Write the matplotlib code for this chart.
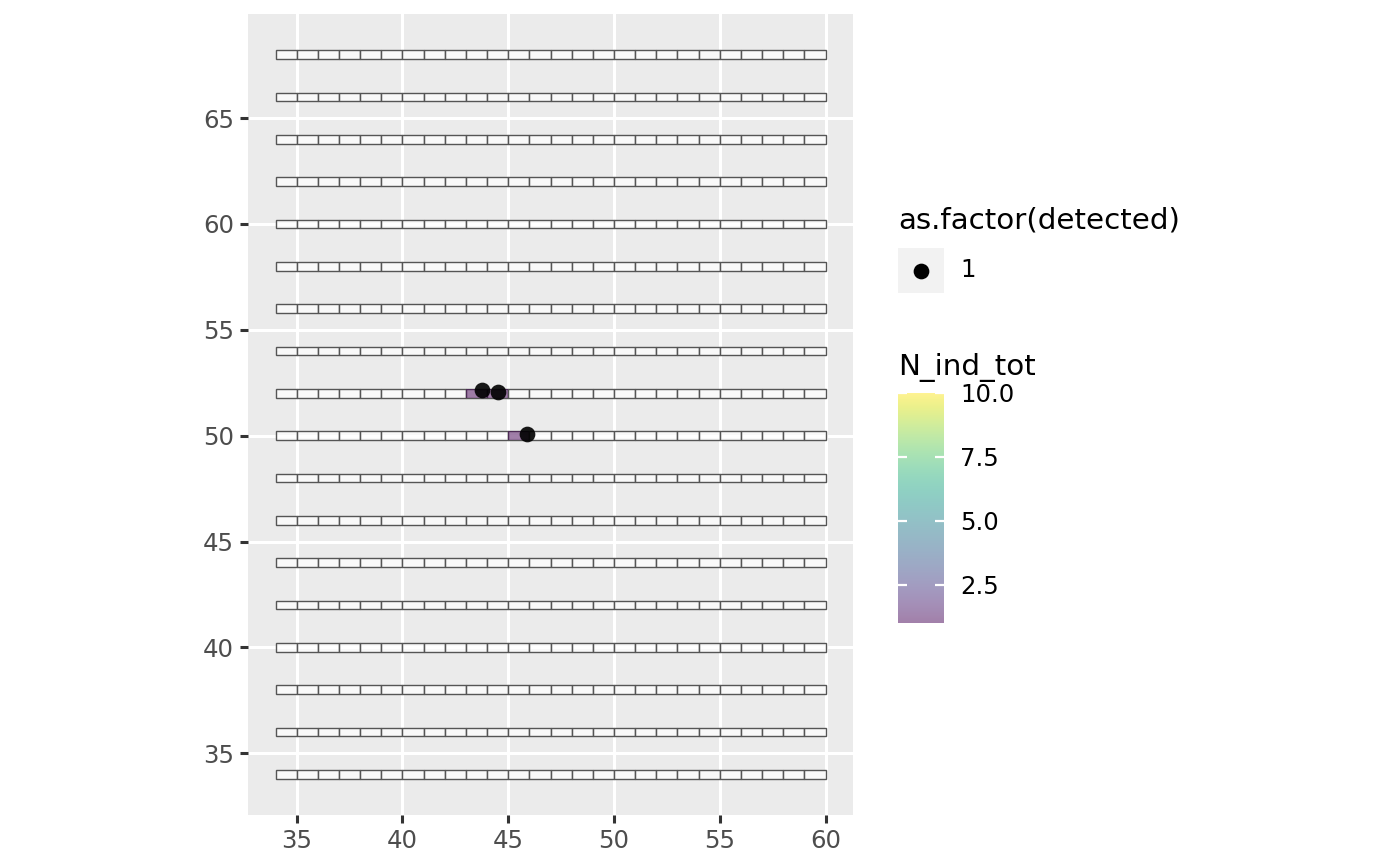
import matplotlib
matplotlib.use("Agg")
import matplotlib.pyplot as plt
import numpy as np

# survey grid: transect rows (y) and cell left edges (x)
row_y = [34, 36, 38, 40, 42, 44, 46, 48, 50, 52, 54, 56, 58, 60, 62, 64, 66, 68]
cell_x = [34, 35, 36, 37, 38, 39, 40, 41, 42, 43, 44, 45, 46, 47, 48, 49, 50,
          51, 52, 53, 54, 55, 56, 57, 58, 59]
cell_h = 0.4

# cells with individuals counted
occ_x = [43, 44, 45]
occ_y = [52, 52, 50]
occ_n = [1, 1, 1]

# detections
det_x = [43.74, 44.50, 45.87]
det_y = [52.15, 52.06, 50.07]
det_lab = ["1"]

n_min, n_max = 1, 10
cb_ticks = [2.5, 5.0, 7.5, 10.0]
cb_labels = ["2.5", "5.0", "7.5", "10.0"]

W, H = 1400, 866
fig = plt.figure(figsize=(7, 4.33), dpi=200)
ax = fig.add_axes([248 / W, 1 - 815 / H, (853 - 248) / W, (815 - 14) / H])
ax.set_facecolor("#EBEBEB")
for s in ax.spines.values():
    s.set_visible(False)

ax.set_xlim(32.7, 61.3)
ax.set_ylim(32.08, 69.92)
ax.set_xticks([35, 40, 45, 50, 55, 60])
ax.set_yticks([35, 40, 45, 50, 55, 60, 65])
ax.grid(True, color="white", linewidth=1.1)
ax.set_axisbelow(True)
ax.tick_params(colors="#333333", labelcolor="#4D4D4D", labelsize=8.8,
               length=2.75, width=1.1, pad=2.2)

# empty grid cells
for y in row_y:
    ax.bar(cell_x, cell_h, width=1, bottom=y - cell_h / 2, align="edge",
           facecolor=(1, 1, 1, 0.7), edgecolor="#555555", linewidth=0.5, zorder=2)

# occupied cells coloured by N_ind_tot
cmap = plt.get_cmap("viridis")
norm = plt.Normalize(n_min, n_max)
occ_cols = [cmap(norm(v), alpha=0.5) for v in occ_n]
ax.bar(occ_x, cell_h, width=1, bottom=np.array(occ_y) - cell_h / 2, align="edge",
       color=occ_cols, edgecolor="none", linewidth=0, zorder=3)

ax.scatter(det_x, det_y, s=32, color="black", alpha=0.9, zorder=4, linewidths=0)

# legend: as.factor(detected)
fig.text(898 / W, 1 - 220 / H, "as.factor(detected)", fontsize=10.6, va="center", ha="left")
kax = fig.add_axes([898 / W, 1 - 293 / H, 46 / W, 45 / H])
kax.set_facecolor("#F2F2F2")
kax.set_xlim(0, 1)
kax.set_ylim(0, 1)
kax.set_xticks([])
kax.set_yticks([])
for s in kax.spines.values():
    s.set_visible(False)
kax.scatter([0.5], [0.5], s=32, color="black", linewidths=0)
fig.text(960 / W, 1 - 270 / H, det_lab[0], fontsize=8.8, va="center", ha="left")

# colourbar: N_ind_tot
fig.text(898 / W, 1 - 367 / H, "N_ind_tot", fontsize=10.6, va="center", ha="left")
cax = fig.add_axes([898 / W, 1 - 623 / H, 46 / W, 230 / H])
grad = np.linspace(n_min, n_max, 256).reshape(-1, 1)
cax.imshow(grad, cmap=cmap, norm=norm, alpha=0.5, aspect="auto", origin="lower",
           extent=[0, 1, n_min, n_max])
cax.set_xlim(0, 1)
cax.set_ylim(n_min, n_max)
cax.set_xticks([])
for s in cax.spines.values():
    s.set_visible(False)
cax.yaxis.tick_right()
cax.set_yticks(cb_ticks)
cax.set_yticklabels(cb_labels)
cax.tick_params(axis="y", length=0, pad=5.8, labelsize=8.8, labelcolor="black")
cax.hlines(cb_ticks, 0, 0.2, color="white", linewidth=0.8)
cax.hlines(cb_ticks, 0.8, 1, color="white", linewidth=0.8)

fig.savefig("out.png", dpi=200)
